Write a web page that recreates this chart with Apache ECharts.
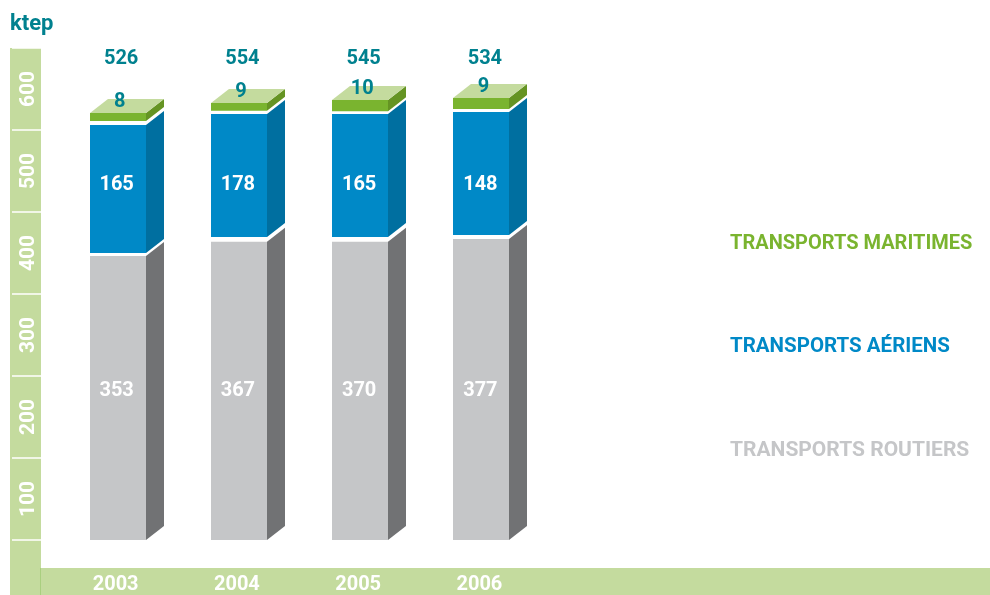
<!DOCTYPE html>
<html>
<head>
<meta charset="utf-8">
<style>html,body{margin:0;padding:0;background:#fff}#c{width:990px;height:595px}</style>
<script src="https://cdn.jsdelivr.net/npm/echarts@6/dist/echarts.min.js"></script>
</head>
<body>
<div id="c"></div>
<script>
// Printed values
const years = ['2003', '2004', '2005', '2006'];
const routiers = [353, 367, 370, 377];
const aeriens = [165, 178, 165, 148];
const maritimes = [8, 9, 10, 9];
const totals = [526, 554, 545, 534];
const axisLabels = ['100', '200', '300', '400', '500', '600'];
// Drawn extents (the source's bars are not exactly to scale and have white gaps)
const routiersTop = [346.3, 363.8, 363.8, 367];
const aeriensBase = [350, 369.5, 369.5, 372];
const aeriensTop = [506, 519.5, 519.5, 522];
const maritimesBase = [511, 523.5, 523, 525.6];
const maritimesTop = [520.7, 533, 536.6, 539];

const FONT = 'Roboto';
const TEAL = '#00818f', BAND = '#c4db9e';
const BAR_W = 56, DX = 18, DY = 14;

function layer(name, base, top, labels, front, side, opts) {
  opts = opts || {};
  return {
    name, type: 'custom', xAxisIndex: 0, yAxisIndex: 0,
    itemStyle: { color: front },
    data: years.map((y, i) => [i, base[i], top[i], labels[i]]),
    encode: { x: 0, y: [1, 2] },
    renderItem(params, api) {
      const i = api.value(0), b = api.coord([i, api.value(1)]), t = api.coord([i, api.value(2)]);
      const x0 = Math.round(b[0] - BAR_W / 2), x1 = x0 + BAR_W, y0 = b[1], y1 = t[1];
      const kids = [
        { type: 'polygon', shape: { points: [[x1, y1], [x1 + DX, y1 - DY], [x1 + DX, y0 - DY], [x1, y0]] }, style: { fill: side } },
        { type: 'rect', shape: { x: x0, y: y1, width: BAR_W, height: y0 - y1 }, style: { fill: front } }
      ];
      if (opts.topFace) {
        kids.push({ type: 'polygon', shape: { points: [[x0, y1], [x0 + DX, y1 - DY], [x1 + DX, y1 - DY], [x1, y1]] }, style: { fill: opts.topFace } });
      }
      let ly = opts.labelValue != null ? api.coord([i, opts.labelValue])[1] : y1 - 11;
      kids.push({
        type: 'text',
        style: {
          text: String(api.value(3)), x: b[0] + opts.labelDx, y: ly,
          fill: opts.labelColor, font: 'bold 20px ' + FONT, align: 'center', verticalAlign: 'middle'
        }
      });
      return { type: 'group', children: kids };
    }
  };
}

const chart = echarts.init(document.getElementById('c'), null, { renderer: 'canvas' });
chart.setOption({
  animation: false,
  backgroundColor: '#fff',
  title: { text: 'ktep', left: 10, top: 13, padding: 0, textStyle: { color: TEAL, fontFamily: FONT, fontWeight: 'bold', fontSize: 22 } },
  graphic: {
    z: -10,
    elements: [
      { type: 'rect', silent: true, shape: { x: 10, y: 48, width: 31, height: 547 }, style: { fill: BAND } },
      { type: 'rect', silent: true, shape: { x: 40, y: 568, width: 950, height: 27 }, style: { fill: BAND } },
      { type: 'rect', silent: true, shape: { x: 40, y: 568, width: 1, height: 27 }, style: { fill: '#a9cf7f' } }
    ]
  },
  legend: {
    orient: 'vertical', left: 725, top: 233, padding: 0, icon: 'none',
    itemWidth: 0, itemHeight: 22, itemGap: 82, selectedMode: false,
    textStyle: { fontFamily: FONT, fontWeight: 'bold', fontSize: 20 },
    data: [
      { name: 'TRANSPORTS MARITIMES', textStyle: { color: '#7ab42f', fontSize: 20 } },
      { name: 'TRANSPORTS AÉRIENS', textStyle: { color: '#0089c7', fontSize: 20.5 } },
      { name: 'TRANSPORTS ROUTIERS', textStyle: { color: '#c5c6c8', fontSize: 21 } }
    ]
  },
  grid: { left: 57, right: 448, top: 48, bottom: 55 },
  xAxis: {
    type: 'category', data: years,
    axisLine: { show: false }, axisTick: { show: false },
    axisLabel: { color: '#fff', fontFamily: FONT, fontWeight: 'bold', fontSize: 20, margin: 35, padding: [0, 4, 0, 0] }
  },
  yAxis: [
    { type: 'value', min: 0, max: 600, interval: 100, show: false },
    {
      type: 'category', data: axisLabels, position: 'left', offset: 16,
      axisLine: { show: false },
      axisTick: { show: true, inside: false, length: 29, lineStyle: { color: '#fff', width: 1.5 } },
      axisLabel: { rotate: 90, color: '#fff', fontFamily: FONT, fontWeight: 'bold', fontSize: 21, margin: 2 },
      splitLine: { show: false }
    }
  ],
  series: [
    layer('TRANSPORTS ROUTIERS', years.map(() => 0), routiersTop, routiers, '#c5c6c8', '#717274', { labelValue: 182, labelDx: -1, labelColor: '#fff' }),
    layer('TRANSPORTS AÉRIENS', aeriensBase, aeriensTop, aeriens, '#0089c7', '#006fa0', { labelValue: 433, labelDx: -1, labelColor: '#fff' }),
    layer('TRANSPORTS MARITIMES', maritimesBase, maritimesTop, maritimes, '#7ab42f', '#659423', { topFace: BAND, labelDx: 2, labelColor: TEAL }),
    {
      name: 'Total', type: 'custom', xAxisIndex: 0, yAxisIndex: 0,
      data: years.map((y, i) => [i, totals[i]]),
      encode: { x: 0, y: 1 },
      renderItem(params, api) {
        const p = api.coord([api.value(0), 586]);
        return {
          type: 'text',
          style: {
            text: String(api.value(1)), x: p[0] + 3.5, y: p[1],
            fill: TEAL, font: 'bold 20px ' + FONT, align: 'center', verticalAlign: 'middle'
          }
        };
      }
    }
  ]
});
</script>
</body>
</html>
